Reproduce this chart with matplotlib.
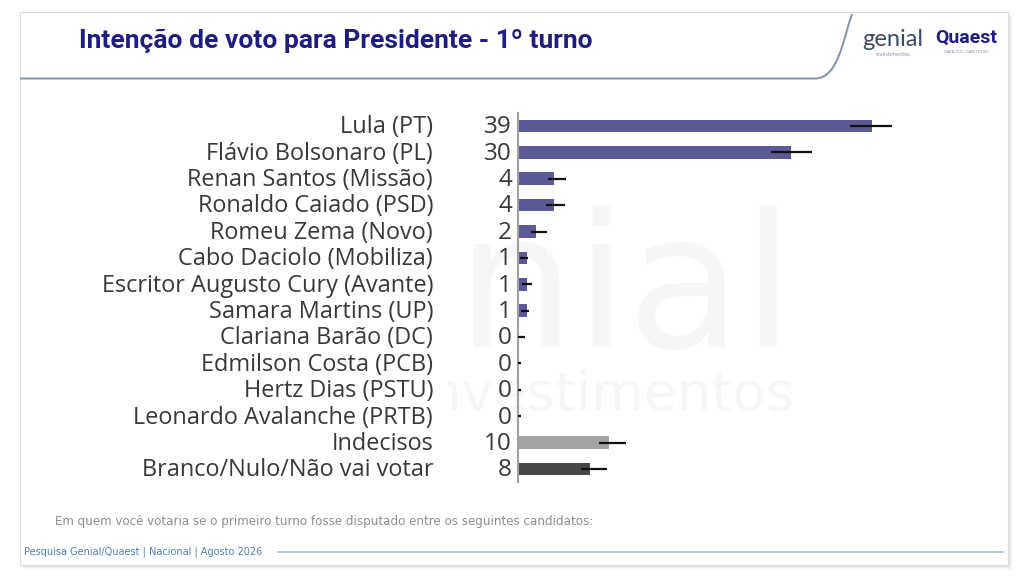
import matplotlib
matplotlib.use("Agg")
import matplotlib.pyplot as plt
from matplotlib.patches import Rectangle, PathPatch
from matplotlib.path import Path

# Dados (intenção de voto, %)
candidatos = [
    "Lula (PT)", "Flávio Bolsonaro (PL)", "Renan Santos (Missão)",
    "Ronaldo Caiado (PSD)", "Romeu Zema (Novo)", "Cabo Daciolo (Mobiliza)",
    "Escritor Augusto Cury (Avante)", "Samara Martins (UP)",
    "Clariana Barão (DC)", "Edmilson Costa (PCB)", "Hertz Dias (PSTU)",
    "Leonardo Avalanche (PRTB)", "Indecisos", "Branco/Nulo/Não vai votar",
]
valores = [39, 30, 4, 4, 2, 1, 1, 1, 0, 0, 0, 0, 10, 8]
erro_min = [36.5, 27.9, 3.3, 3.1, 1.5, 0.3, 0.5, 0.4, 0.0, 0.0, 0.0, 0.0, 9.0, 7.0]
erro_max = [41.1, 32.4, 5.3, 5.2, 3.2, 1.2, 1.55, 1.3, 0.8, 0.35, 0.35, 0.35, 11.9, 9.8]
grupo = ["cand"] * 12 + ["indecisos", "branco"]

CORES = {"cand": "#5b5a96", "indecisos": "#a3a3a3", "branco": "#474747"}
NAVY = "#1f1d80"
INK = "#383838"
LINHA = "#7e93a8"

W, H = 1024, 580
fig = plt.figure(figsize=(W / 100, H / 100), dpi=100)
fig.patch.set_facecolor("white")

# camada de fundo em pixels (cartão, cabeçalho, rodapé)
bg = fig.add_axes([0, 0, 1, 1])
bg.set_xlim(0, W)
bg.set_ylim(H, 0)
bg.axis("off")

for k, a in enumerate([0.10, 0.08, 0.06, 0.04]):
    bg.add_patch(Rectangle((20 + 2 + k, 12 + 2 + k), 988, 553, fc="#9a9a9a", ec="none",
                           alpha=a, zorder=0))
bg.add_patch(Rectangle((20, 12), 988, 553, fc="white", ec="#dcdcdc", lw=0.8, zorder=1))

curva = Path([(20, 78.5), (815, 78.5), (838, 78.5), (843, 40), (852, 14)],
             [Path.MOVETO, Path.LINETO, Path.CURVE4, Path.CURVE4, Path.CURVE4])
bg.add_patch(PathPatch(curva, fc="none", ec=LINHA, lw=1.4, zorder=2))

bg.text(79, 41, "Intenção de voto para Presidente - 1º turno", fontsize=19,
        fontweight="bold", color=NAVY, ha="left", va="center", family="Roboto", zorder=3)

# logos
bg.text(893, 39, "genial", fontsize=17, color="#3d4a66", ha="center", va="center",
        family="Lato", zorder=3)
bg.text(893, 54, "investimentos", fontsize=3.5, color="#8a93a5", ha="center", va="center",
        zorder=3)
bg.text(966, 38, "Quaest", fontsize=14, fontweight="bold", color=NAVY, ha="center",
        va="center", family="Roboto", zorder=3)
bg.text(966, 52, "DATA YOU CAN TRUST", fontsize=3, color="#8a93a5", ha="center",
        va="center", zorder=3)

# marca d'água (a parte sob os rótulos fica encoberta)
bg.text(795, 347, "genial", fontsize=135, color="#f6f6f6", ha="right", va="baseline",
        family="DejaVu Sans", zorder=2)
bg.text(795, 395, "investimentos", fontsize=39, color="#f6f6f6", ha="right",
        va="center", family="DejaVu Sans", zorder=2)
bg.add_patch(Rectangle((40, 100), 408, 400, fc="white", ec="none", zorder=2.5))

bg.text(55, 522, "Em quem você votaria se o primeiro turno fosse disputado entre os seguintes candidatos:",
        fontsize=8.6, color="#8c8c8c", ha="left", va="center", zorder=3)
bg.text(24, 552, "Pesquisa Genial/Quaest | Nacional | Agosto 2026", fontsize=7,
        color="#4f7fb0", ha="left", va="center", zorder=3)
bg.plot([278, 1003], [552, 552], color="#9ec0dc", lw=1.2, zorder=3)

# gráfico de barras
x0, px_por_ponto = 517.5, 9.1
topo, base = 112.8, 482.2
ax = fig.add_axes([x0 / W, (H - base) / H, 455 / W, (base - topo) / H])
ax.set_xlim(0, 455 / px_por_ponto)
ax.set_ylim(len(valores) - 0.5, -0.5)
ax.patch.set_alpha(0)

pos = list(range(len(valores)))
ax.barh(pos, valores, height=0.48, color=[CORES[g] for g in grupo], zorder=2)
ax.hlines(pos, erro_min, erro_max, color="#111111", lw=1.6, zorder=3)

for i, (nome, v) in enumerate(zip(candidatos, valores)):
    ax.text(-0.1857, i + 0.05, nome, transform=ax.get_yaxis_transform(), ha="right",
            va="center", fontsize=16.9, color=INK, family="Open Sans")
    ax.text(-0.012, i + 0.05, f"{v}", transform=ax.get_yaxis_transform(), ha="right",
            va="center", fontsize=17.5, color=INK, family="Open Sans")

for lado in ["top", "right", "bottom"]:
    ax.spines[lado].set_visible(False)
ax.spines["left"].set_color("#a0a0a0")
ax.spines["left"].set_linewidth(1.5)
ax.set_xticks([])
ax.set_yticks([])

fig.savefig("out.png", dpi=100, facecolor="white")
